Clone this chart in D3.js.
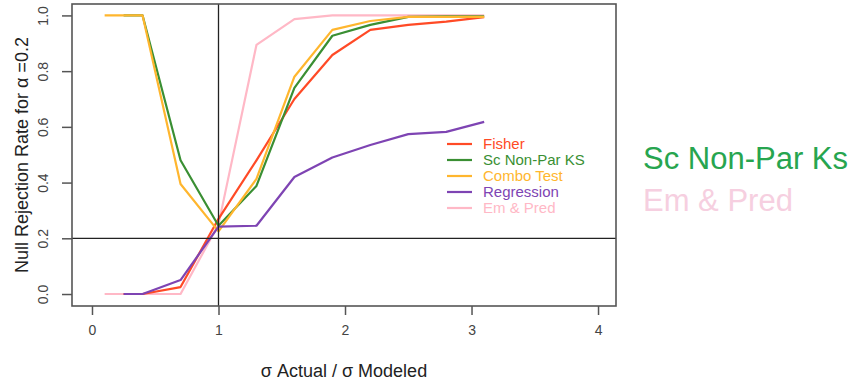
<!DOCTYPE html>
<meta charset="utf-8">
<style>
body { margin: 0; background: #fff; }
text { font-family: "Liberation Sans", Arial, Helvetica, sans-serif; }
</style>
<body>
<script src="https://d3js.org/d3.v7.min.js"></script>
<script>

var w = 861;
var h = 385;

// data
var ratio = [0.1, 0.25, 0.4, 0.7, 1.0, 1.3, 1.6, 1.9, 2.2, 2.5, 2.8, 3.1];
var fisher = [null, 0, 0, 0.025, 0.27, 0.48, 0.70, 0.858, 0.948, 0.966, 0.978, 0.994];
var scNonPar = [null, 1, 1, 0.48, 0.245, 0.388, 0.74, 0.927, 0.966, 0.995, 0.997, 0.997];
var combo = [1, 1, 1, 0.395, 0.225, 0.413, 0.78, 0.948, 0.98, 0.995, 0.995, 0.995];
var regression = [null, 0, 0, 0.05, 0.242, 0.245, 0.42, 0.49, 0.535, 0.574, 0.582, 0.618];
var emPred = [0, 0, 0, 0, 0.25, 0.894, 0.987, 1, 1, 1, 1, 1];

var xTicks = [0, 1, 2, 3, 4];
var yTicks = [0, 0.2, 0.4, 0.6, 0.8, 1.0];
var refX = 1;
var refY = 0.2;

var seriesNames = ["Fisher", "Sc Non-Par KS", "Combo Test", "Regression", "Em & Pred"];
var seriesColors = ["#ff4a26", "#3a8f33", "#ffb62e", "#7e44b3", "#ffb8c6"];
var seriesValues = [fisher, scNonPar, combo, regression, emPred];
var drawOrder = [4, 0, 1, 2, 3];

var noteLabels = ["Sc Non-Par Ks", "Em & Pred"];
var noteColors = ["#27a54f", "#f6cfe0"];

// plot box
var box = {left: 72, top: 4, right: 616, bottom: 306};

var x = d3.scaleLinear()
    .domain([-0.158, 4.142])
    .range([box.left, box.right]);
var y = d3.scaleLinear()
    .domain([-0.043, 1.041])
    .range([box.bottom, box.top]);

var svg = d3.select("body")
    .append("svg")
    .attr("width", w)
    .attr("height", h);

// lines
var line = d3.line()
    .defined(function(d) { return d[1] != null; })
    .x(function(d) { return x(d[0]); })
    .y(function(d) { return y(d[1]); });

drawOrder.forEach(function(i) {
    var pts = ratio.map(function(r, j) { return [r, seriesValues[i][j]]; });
    svg.append("path")
        .attr("d", line(pts))
        .attr("fill", "none")
        .attr("stroke", seriesColors[i])
        .attr("stroke-width", 2.2)
        .attr("stroke-linejoin", "round");
});

// reference lines
svg.append("line")
    .attr("x1", x(refX)).attr("x2", x(refX))
    .attr("y1", box.top).attr("y2", box.bottom)
    .attr("stroke", "#222").attr("stroke-width", 1.3);
svg.append("line")
    .attr("x1", box.left).attr("x2", box.right)
    .attr("y1", y(refY)).attr("y2", y(refY))
    .attr("stroke", "#222").attr("stroke-width", 1.3);

// box
svg.append("rect")
    .attr("x", box.left).attr("y", box.top)
    .attr("width", box.right - box.left)
    .attr("height", box.bottom - box.top)
    .attr("fill", "none")
    .attr("stroke", "#555")
    .attr("stroke-width", 1.6);

// axes
var xAxis = d3.axisBottom(x)
    .tickValues(xTicks)
    .tickSize(9)
    .tickPadding(10)
    .tickFormat(d3.format("d"));
var gx = svg.append("g")
    .attr("transform", "translate(0," + box.bottom + ")")
    .call(xAxis);
gx.select(".domain").remove();

var yAxis = d3.axisLeft(y)
    .tickValues(yTicks)
    .tickSize(10)
    .tickFormat(d3.format(".1f"));
var gy = svg.append("g")
    .attr("transform", "translate(" + box.left + ",0)")
    .call(yAxis);
gy.select(".domain").remove();
gy.selectAll(".tick text")
    .attr("x", null).attr("dy", null)
    .attr("text-anchor", "middle")
    .attr("transform", "translate(-24,0) rotate(-90)");

svg.selectAll(".tick line").attr("stroke", "#555").attr("stroke-width", 1.5);
svg.selectAll(".tick text")
    .attr("font-family", "Liberation Sans, Arial, sans-serif")
    .attr("font-size", 14)
    .attr("fill", "#444");

// axis titles
svg.append("text")
    .attr("x", (box.left + box.right) / 2)
    .attr("y", 377)
    .attr("text-anchor", "middle")
    .attr("font-size", 18)
    .attr("fill", "#222")
    .text("σ Actual / σ Modeled");

svg.append("text")
    .attr("transform", "translate(28," + (box.top + box.bottom) / 2 + ") rotate(-90)")
    .attr("text-anchor", "middle")
    .attr("font-size", 18)
    .attr("fill", "#222")
    .text("Null Rejection Rate for α =0.2");

// legend
var legend = svg.append("g")
    .attr("transform", "translate(447,144)");
seriesNames.forEach(function(name, i) {
    legend.append("line")
        .attr("x1", 0).attr("x2", 25)
        .attr("y1", i * 16).attr("y2", i * 16)
        .attr("stroke", seriesColors[i])
        .attr("stroke-width", 2.2);
    legend.append("text")
        .attr("x", 36)
        .attr("y", i * 16 + 5)
        .attr("font-size", 15)
        .attr("fill", seriesColors[i])
        .text(name);
});

// big notes on the right
noteLabels.forEach(function(t, i) {
    svg.append("text")
        .attr("x", 643)
        .attr("y", 169 + i * 42)
        .attr("font-size", 31)
        .attr("fill", noteColors[i])
        .text(t);
});

</script>
</body>
